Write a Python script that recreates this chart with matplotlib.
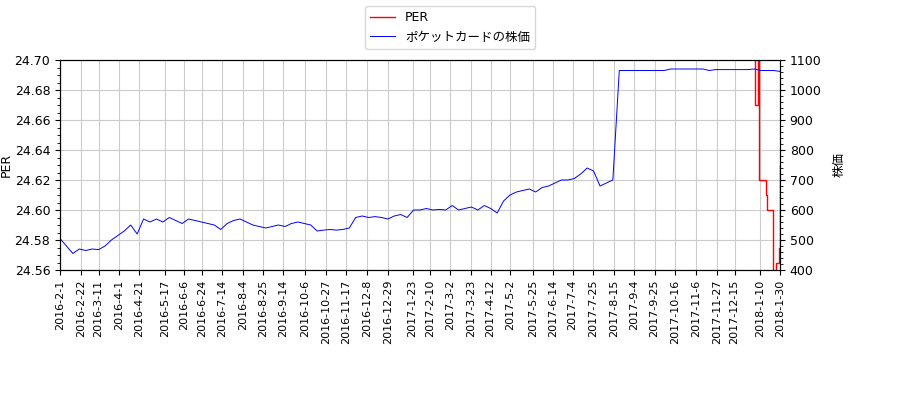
import numpy as np
import pandas as pd
import matplotlib
matplotlib.use("Agg")
import matplotlib.pyplot as plt

plt.rcParams['font.family'] = ['DejaVu Sans', 'Noto Sans CJK JP']
plt.rcParams['font.size'] = 9

# weekly closing prices
price = [505, 480, 455, 470, 465,
         470, 468, 480, 500, 515,
         530, 550, 520, 570, 560,
         570, 560, 575, 565, 555,
         570, 565, 560, 555,
         550, 535, 555, 565, 570,
         560, 550, 545, 540,
         545, 550, 545, 555, 560,
         555, 550, 530, 533, 535,
         533, 535, 540, 575, 580,
         575, 578, 575, 570, 580,
         585, 575, 600, 600, 605,
         600, 602, 600, 615, 600,
         605, 610, 600, 615, 605,
         590, 630, 650, 660,
         665, 670, 660, 675, 680,
         690, 700, 700, 705,
         720, 740, 730, 680, 690,
         700, 1065, 1065, 1065, 1065,
         1065, 1065, 1065, 1065,
         1070, 1070, 1070, 1070, 1070,
         1070, 1065, 1068, 1068,
         1068, 1068, 1068, 1068, 1070,
         1065, 1065, 1065, 1062]
price_dates = pd.date_range('2016-02-01', '2018-01-30', periods=len(price))

per_dates = pd.to_datetime(['2017-12-28', '2018-01-04', '2018-01-05', '2018-01-08',
                            '2018-01-09', '2018-01-15', '2018-01-16', '2018-01-17',
                            '2018-01-22', '2018-01-23', '2018-01-26', '2018-01-29',
                            '2018-01-30'])
per = [24.75, 24.75, 24.67, 24.75, 24.62, 24.62, 24.61, 24.60, 24.60,
       24.50, 24.565, 24.575, 24.63]

tick_labels = ['2016-2-1', '2016-2-22', '2016-3-11', '2016-4-1', '2016-4-21', '2016-5-17',
               '2016-6-6', '2016-6-24', '2016-7-14', '2016-8-4', '2016-8-25', '2016-9-14',
               '2016-10-6', '2016-10-27', '2016-11-17', '2016-12-8', '2016-12-29',
               '2017-1-23', '2017-2-10', '2017-3-2', '2017-3-23', '2017-4-12', '2017-5-2',
               '2017-5-25', '2017-6-14', '2017-7-4', '2017-7-25', '2017-8-15', '2017-9-4',
               '2017-9-25', '2017-10-16', '2017-11-6', '2017-11-27', '2017-12-15',
               '2018-1-10', '2018-1-30']

fig = plt.figure(figsize=(9, 4), dpi=100)
ax = fig.add_axes([60/900, 130/400, 720/900, 210/400])
ax2 = ax.twinx()

l1, = ax.plot(per_dates, per, color='red', lw=1, drawstyle='steps-post', label='PER')
l2, = ax2.plot(price_dates, price, color='blue', lw=0.7, label='ポケットカードの株価')

ax.set_ylim(24.56, 24.70)
ax.set_yticks(np.arange(24.56, 24.701, 0.02))
ax.yaxis.set_major_formatter(plt.FormatStrFormatter('%.2f'))
ax2.set_ylim(400, 1100)
ax.set_xlim(pd.Timestamp('2016-02-01'), pd.Timestamp('2018-01-30'))
ticks = pd.to_datetime(tick_labels)
ax.set_xticks(ticks)
ax.set_xticklabels(tick_labels, rotation=90, fontsize=8)
ax.grid(True, color='#cccccc')
ax.set_ylabel('PER', labelpad=1)
ax2.set_ylabel('株価', family=['Noto Sans CJK JP'], labelpad=8)
ax.minorticks_on()
ax2.minorticks_on()
ax.xaxis.set_minor_locator(plt.NullLocator())

fig.legend([l1, l2], ['PER', 'ポケットカードの株価'], loc='upper center',
           bbox_to_anchor=(0.5, 1.0), prop={'family': ['DejaVu Sans', 'Noto Sans CJK JP']})
fig.savefig('out.png')
